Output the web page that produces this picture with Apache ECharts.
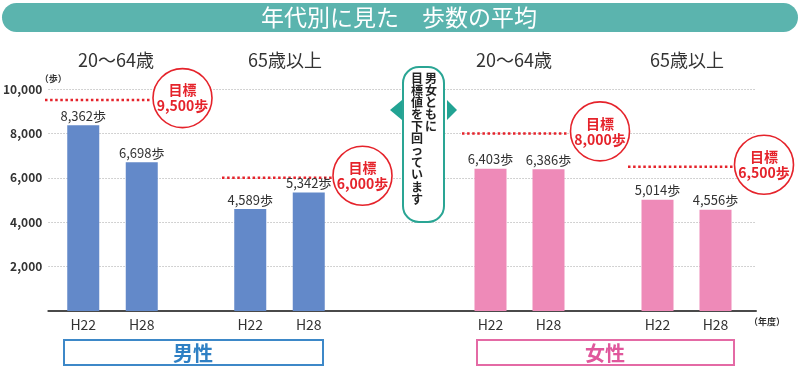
<!DOCTYPE html>
<html><head><meta charset="utf-8">
<script src="https://cdn.jsdelivr.net/npm/echarts@6/dist/echarts.min.js"></script>
<style>html,body{margin:0;padding:0;background:#fff}#c{width:800px;height:367px}</style>
</head><body><div id="c"></div>
<script>
const FONT = '"Noto Sans CJK JP", "Noto Sans", sans-serif';
const title = '年代別に見た　歩数の平均';
const categories = ['H22', 'H28'];
const ageGroups = ['20～64歳', '65歳以上', '20～64歳', '65歳以上'];
const sexLabels = ['男性', '女性'];
const male2064 = [8362, 6698];
const male65 = [4589, 5342];
const female2064 = [6403, 6386];
const female65 = [5014, 4556];
const targets = [9500, 6000, 8000, 6500];
const yMin = 0, yMax = 10000, yInterval = 2000;
const unitY = '（歩）';
const unitX = '（年度）';
const calloutCols = ['男女ともに', '目標値を下回っています'];

const seriesData = [male2064, male65, female2064, female65];
const BLUE = '#6389c9', PINK = '#ee8ab8', RED = '#e5232b';
const barColors = [BLUE, BLUE, PINK, PINK];
const gridLefts = [54, 221, 461.5, 628.5];
const gridWidths = [117, 117, 116, 116];
const TOP = 89, BOTTOM = 56;

const chart = echarts.init(document.getElementById('c'), null, {renderer: 'canvas'});

const grids = [{left: 43, right: 44, top: TOP, bottom: BOTTOM}];
const xAxes = [{gridIndex: 0, type: 'value', min: 0, max: 1,
  axisLine: {show: true, onZero: false, lineStyle: {color: '#4a4a4a', width: 2}},
  axisTick: {show: false}, axisLabel: {show: false}, splitLine: {show: false}}];
const yAxes = [{gridIndex: 0, type: 'value', min: yMin, max: yMax, interval: yInterval,
  name: unitY, nameLocation: 'end', nameGap: 6,
  nameTextStyle: {fontSize: 9, color: '#333', fontFamily: FONT, fontWeight: 'bold', padding: [0, 0, 0, 10]},
  axisLine: {show: false}, axisTick: {show: false},
  axisLabel: {color: '#333', fontSize: 12, margin: 6, fontFamily: FONT, fontWeight: 'bold',
    formatter: v => v === 0 ? '' : v.toLocaleString('en-US')},
  splitLine: {show: true, lineStyle: {color: '#c4c4c4', type: [1.5, 1.5], width: 1}}}];
const series = [];
seriesData.forEach((d, i) => {
  const gi = i + 1;
  grids.push({left: gridLefts[i], width: gridWidths[i], top: TOP, bottom: BOTTOM});
  xAxes.push({gridIndex: gi, type: 'category', data: categories,
    axisLine: {show: false}, axisTick: {show: false},
    axisLabel: {color: '#333', fontSize: 14, margin: 7, fontFamily: FONT}});
  yAxes.push({gridIndex: gi, type: 'value', min: yMin, max: yMax, interval: yInterval, show: false,
    splitLine: {show: false}});
  series.push({type: 'bar', xAxisIndex: gi, yAxisIndex: gi, data: d, barWidth: 32, z: 5,
    itemStyle: {color: barColors[i]},
    label: {show: true, position: 'top', distance: 3, color: '#333', fontSize: 13, fontFamily: FONT,
      formatter: p => p.value.toLocaleString('en-US') + '歩'}});
});

chart.setOption({
  animation: false,
  textStyle: {fontFamily: FONT},
  grid: grids, xAxis: xAxes, yAxis: yAxes, series: series
});

// Decorations
const g = [];
g.push({type: 'rect', shape: {x: 2, y: 3, width: 796, height: 29, r: 14.5}, style: {fill: '#5bb4ae'}, z: 10});
g.push({type: 'text', x: 399, y: 17.5, style: {text: title, fill: '#fff', font: '23px ' + FONT, align: 'center', verticalAlign: 'middle'}, z: 11});

const groupCenters = [116, 285, 514, 687];
ageGroups.forEach((t, i) => {
  g.push({type: 'text', x: groupCenters[i], y: 60, style: {text: t, fill: '#333', font: '18px ' + FONT, align: 'center', verticalAlign: 'middle'}, z: 10});
});

const lineSpans = [[45, 150], [222, 335], [462, 568], [628, 735]];
const circleX = [182.5, 362.5, 600, 764];
targets.forEach((t, i) => {
  const y = chart.convertToPixel({yAxisIndex: 0}, t);
  g.push({type: 'line', shape: {x1: lineSpans[i][0], y1: y, x2: lineSpans[i][1], y2: y},
    style: {stroke: RED, lineWidth: 2.5, lineDash: [2.5, 2.6]}, z: 3});
  g.push({type: 'circle', shape: {cx: circleX[i], cy: y - 2, r: 29.5},
    style: {fill: '#fff', stroke: RED, lineWidth: 1.6}, z: 3});
  g.push({type: 'text', x: circleX[i], y: y - 10, style: {text: '目標', fill: RED, font: 'bold 14px ' + FONT, align: 'center', verticalAlign: 'middle'}, z: 4});
  g.push({type: 'text', x: circleX[i], y: y + 6, style: {text: t.toLocaleString('en-US') + '歩', fill: RED, font: 'bold 14px ' + FONT, align: 'center', verticalAlign: 'middle'}, z: 4});
});

// callout
const TEAL = '#22a393';
g.push({type: 'rect', shape: {x: 403, y: 67, width: 41, height: 155, r: 16}, style: {fill: '#fff', stroke: '#2aa594', lineWidth: 2}, z: 10});
g.push({type: 'polygon', shape: {points: [[390, 110], [402, 100], [402, 120]]}, style: {fill: TEAL}, z: 10});
g.push({type: 'polygon', shape: {points: [[457, 110], [447, 100], [447, 120]]}, style: {fill: TEAL}, z: 10});
const colX = [431, 417];
calloutCols.forEach((t, i) => {
  g.push({type: 'text', x: colX[i], y: 72, style: {text: t.split('').join('\n'), fill: '#222', font: 'bold 12px ' + FONT, lineHeight: 12.1, align: 'center', verticalAlign: 'top'}, z: 11});
});

// bottom boxes
g.push({type: 'rect', shape: {x: 64, y: 340, width: 259, height: 25}, style: {fill: '#fff', stroke: '#3d88c8', lineWidth: 2}, z: 10});
g.push({type: 'text', x: 193, y: 353, style: {text: sexLabels[0], fill: '#2f80c4', font: 'bold 20px ' + FONT, align: 'center', verticalAlign: 'middle'}, z: 11});
g.push({type: 'rect', shape: {x: 477, y: 340, width: 257, height: 25}, style: {fill: '#fff', stroke: '#e46aa5', lineWidth: 2}, z: 10});
g.push({type: 'text', x: 605, y: 353, style: {text: sexLabels[1], fill: '#e0579c', font: 'bold 20px ' + FONT, align: 'center', verticalAlign: 'middle'}, z: 11});

g.push({type: 'text', x: 767, y: 322, style: {text: unitX, fill: '#333', font: 'bold 9px ' + FONT, align: 'center', verticalAlign: 'middle'}, z: 10});

chart.setOption({graphic: g});
</script></body></html>
